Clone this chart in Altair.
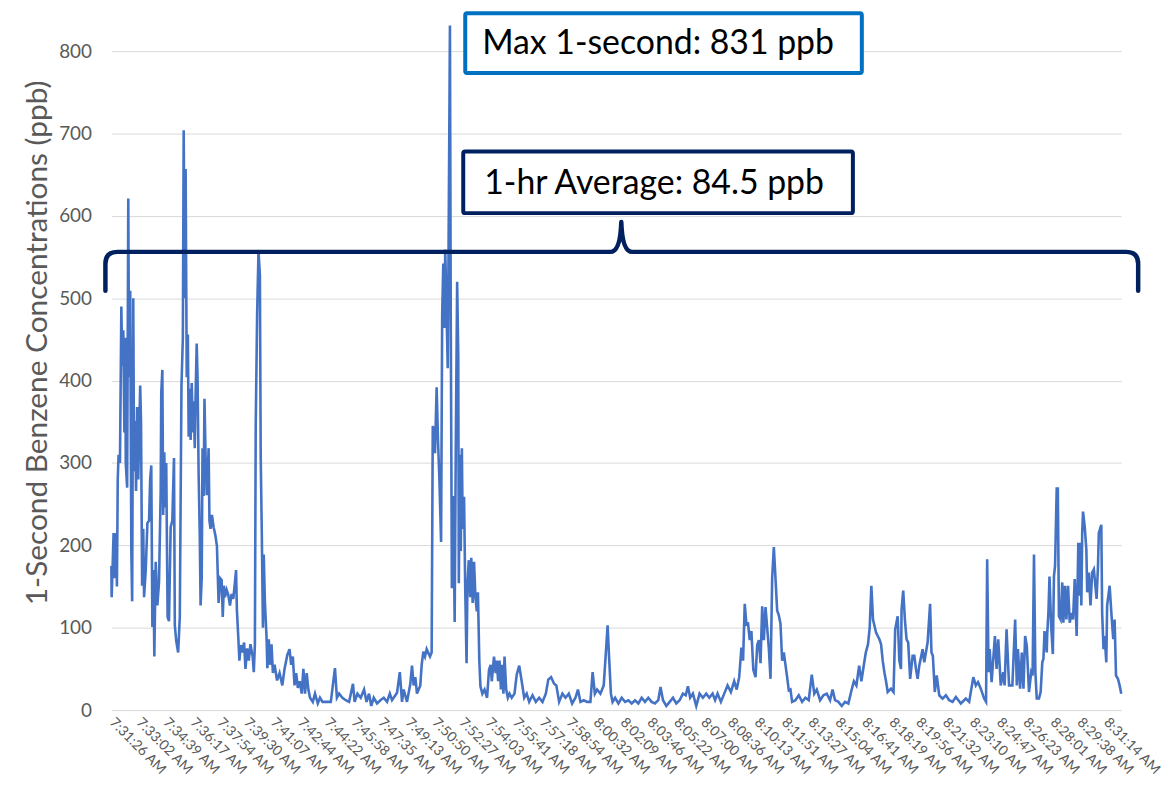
import altair as alt
import pandas as pd

# ---------------- data ----------------
# elapsed seconds after 7:31:26 AM and 1-second benzene concentration (ppb)
ELAPSED_S = [
    0, 1, 5, 8, 13, 17, 20, 23, 26, 31, 36, 39, 43, 47, 50, 52, 57, 61, 64, 68,
    72, 75, 79, 82, 86, 89, 93, 97, 100, 104, 107, 111, 115, 118, 124, 130, 136, 140, 144, 148,
    152, 155, 160, 166, 172, 178, 180, 184, 187, 191, 194, 198, 203, 208, 214, 220, 226, 229, 234, 241,
    247, 253, 258, 261, 265, 268, 272, 276, 279, 283, 286, 290, 294, 297, 301, 304, 308, 311, 315, 319,
    322, 326, 329, 333, 336, 340, 344, 347, 351, 354, 358, 363, 369, 375, 381, 387, 393, 398, 402, 406,
    410, 416, 422, 428, 434, 440, 446, 450, 453, 458, 462, 467, 472, 479, 484, 490, 496, 502, 510, 514,
    518, 521, 526, 531, 536, 539, 543, 547, 550, 554, 560, 563, 568, 573, 578, 583, 589, 598, 607, 617,
    625, 635, 643, 649, 655, 661, 667, 673, 680, 687, 693, 699, 705, 711, 717, 727, 735, 745, 753, 762,
    774, 792, 807, 814, 822, 834, 846, 858, 872, 878, 888, 900, 912, 921, 930, 938, 947, 959, 971, 983,
    995, 1005, 1013, 1025,
    1031, 1041, 1049, 1055, 1067, 1079, 1085, 1091, 1097, 1103, 1109, 1115, 1120, 1126, 1132, 1138, 1150, 1156, 1160, 1163,
    1168, 1174, 1179, 1184, 1190, 1194, 1198, 1202, 1205, 1210, 1214, 1217, 1222, 1225, 1229, 1234, 1239, 1243, 1248, 1252,
    1254, 1258, 1261, 1265, 1268, 1273, 1277, 1282, 1285, 1290, 1295, 1299, 1304, 1309, 1314, 1319, 1323, 1328, 1332, 1339,
    1347, 1356, 1363, 1369, 1373, 1381, 1387, 1391, 1396, 1401, 1406, 1410, 1415, 1419, 1425, 1431, 1437, 1445, 1455, 1463,
    1472, 1481, 1490, 1499, 1508, 1520, 1532, 1544, 1556, 1568, 1577, 1587, 1598, 1606, 1616, 1628, 1639, 1651, 1663, 1675,
    1684, 1693, 1705, 1717, 1729, 1737, 1745, 1753, 1765, 1777, 1785, 1791, 1797, 1803, 1809, 1818, 1830, 1842, 1854, 1866,
    1878, 1890, 1902, 1914, 1926, 1938, 1950, 1962, 1974, 1982, 1991, 2003, 2015, 2027, 2039, 2051, 2063, 2073, 2081, 2089,
    2099, 2111, 2123, 2135, 2147, 2158, 2170, 2179, 2188, 2200, 2212, 2224, 2236, 2248, 2257, 2266, 2274, 2280, 2286, 2292,
    2298, 2304, 2310, 2317, 2325, 2331, 2337, 2343, 2349, 2355, 2361, 2367, 2373, 2379, 2385, 2391, 2397, 2403, 2409, 2415,
    2421, 2427, 2433, 2439, 2445, 2451, 2457, 2469, 2481, 2493, 2505, 2517, 2528, 2537, 2546, 2558, 2570, 2582, 2594, 2603,
    2612, 2624, 2636, 2648, 2660, 2672, 2680, 2689, 2699, 2707, 2716, 2723, 2731, 2737, 2743, 2749,
    2760, 2766, 2772, 2778, 2784, 2790, 2796, 2802, 2814, 2823, 2829, 2838, 2844, 2850, 2852, 2858, 2864, 2870, 2876, 2883,
    2892, 2898, 2904, 2910, 2916, 2928, 2934, 2946, 2955, 2960, 2965, 2972, 2979, 2988, 3000, 3012, 3024, 3036, 3048, 3066,
    3084, 3096, 3111, 3120, 3128, 3138, 3150, 3157, 3161, 3166, 3170, 3177, 3189, 3195, 3201, 3210, 3219, 3224, 3231, 3240,
    3252, 3262, 3268, 3272, 3280, 3286, 3292, 3298, 3304, 3312, 3320, 3325, 3330, 3335, 3340, 3348, 3354, 3360, 3364, 3368,
    3376, 3378, 3382, 3386, 3392, 3398, 3402, 3406, 3412, 3416, 3420, 3426, 3432, 3436, 3442, 3447, 3453, 3459, 3465, 3471,
    3477, 3484, 3490, 3495, 3498, 3501, 3504, 3507, 3513, 3519, 3522, 3528, 3534, 3540, 3546, 3556, 3561, 3564, 3573, 3576,
    3581, 3585, 3591, 3594, 3603, 3610, 3616, 3621, 3626, 3633, 3639, 3645,
]

PPB = [
    175, 137, 180, 215, 160, 215, 150, 280, 310, 300, 490, 418, 461, 337, 452, 299, 270, 621, 404, 509,
    194, 132, 500, 290, 351, 266, 368, 280, 328, 394, 350, 151, 220, 137, 170, 227, 230, 280, 297, 101,
    170, 65, 180, 127, 156, 266, 385, 413, 237, 313, 246, 300, 113, 108, 222, 230, 306, 103, 84, 70,
    113, 394, 452, 704, 500, 657, 404, 456, 332, 390, 328, 397, 337, 375, 318, 382, 445, 404, 285, 213,
    127, 160, 318, 260, 378, 308, 261, 280, 318, 230, 220, 237, 222, 213, 199, 130, 160, 158, 113, 151,
    137, 146, 140, 127, 141, 135, 155, 170, 122, 89, 60, 79, 70, 82, 50, 75, 60, 80, 65, 46,
    80, 345, 480, 557, 528, 308, 213, 100, 189, 132, 89, 51, 86, 55, 80, 45, 55, 36, 45, 30,
    50, 67, 74, 55, 65, 30, 45, 27, 35, 20, 50, 20, 45, 25, 15, 10, 20, 8, 15, 10,
    10, 10, 51, 15, 20, 15, 12, 10, 32, 10, 20, 15, 25, 10, 20, 5, 15, 8, 12, 15,
    10, 20, 12, 18,
    21, 46, 10, 25, 10, 32, 54, 30, 40, 20, 25, 30, 55, 71, 65, 74, 65, 70, 345, 340,
    312, 392, 326, 280, 204, 481, 542, 464, 559, 480, 415, 559, 831, 470, 148, 260, 107, 315, 520, 430,
    154, 310, 193, 318, 220, 259, 150, 57, 150, 182, 137, 185, 130, 180, 137, 120, 143, 60, 29, 20,
    25, 15, 49, 55, 35, 65, 45, 60, 35, 60, 25, 55, 20, 65, 25, 15, 20, 15, 20, 43,
    54, 35, 15, 20, 10, 18, 10, 15, 10, 20, 37, 40, 32, 30, 10, 20, 15, 20, 8, 15,
    25, 10, 12, 10, 10, 46, 20, 25, 20, 30, 71, 103, 60, 20, 10, 15, 8, 15, 10, 12,
    8, 12, 8, 15, 10, 15, 10, 8, 12, 28, 12, 5, 10, 15, 8, 12, 20, 18, 29, 15,
    20, 5, 20, 15, 20, 15, 20, 12, 20, 10, 20, 30, 22, 35, 25, 40, 76, 60, 129, 104,
    105, 85, 96, 49, 40, 79, 85, 57, 126, 85, 125, 100, 75, 38, 160, 198, 160, 121, 115, 105,
    60, 70, 55, 40, 24, 25, 10, 12, 18, 10, 15, 12, 43, 20, 25, 12, 18, 20, 12, 25,
    12, 10, 5, 10, 8, 25, 35, 30, 54, 35, 55, 70, 80, 100, 151, 110,
    94, 90, 86, 80, 60, 46, 35, 22, 26, 22, 98, 114, 60, 50, 122, 145, 110, 86, 82, 38,
    66, 66, 50, 38, 54, 74, 58, 82, 129, 70, 66, 22, 42, 18, 14, 18, 12, 10, 16, 8,
    14, 10, 40, 30, 34, 26, 14, 10, 183, 46, 74, 34, 90, 50, 86, 30, 46, 30, 98, 30,
    30, 110, 30, 74, 26, 70, 26, 90, 78, 22, 46, 42, 189, 46, 14, 14, 22, 58, 62, 96,
    70, 94, 118, 162, 102, 68, 162, 175, 269, 269, 114, 110, 155, 106, 151, 110, 151, 106, 118, 110,
    159, 90, 203, 139, 203, 127, 215, 241, 223, 195, 143, 167, 127, 167, 171, 135, 175, 215, 225, 118,
    74, 90, 58, 127, 151, 114, 86, 110, 42, 38, 30, 20,
]

TICK_LABELS = [
    "7:31:26 AM", "7:33:02 AM", "7:34:39 AM", "7:36:17 AM", "7:37:54 AM", "7:39:30 AM",
    "7:41:07 AM", "7:42:44 AM", "7:44:22 AM", "7:45:58 AM", "7:47:35 AM", "7:49:13 AM",
    "7:50:50 AM", "7:52:27 AM", "7:54:03 AM", "7:55:41 AM", "7:57:18 AM", "7:58:54 AM",
    "8:00:32 AM", "8:02:09 AM", "8:03:46 AM", "8:05:22 AM", "8:07:00 AM", "8:08:36 AM",
    "8:10:13 AM", "8:11:51 AM", "8:13:27 AM", "8:15:04 AM", "8:16:41 AM", "8:18:19 AM",
    "8:19:56 AM", "8:21:32 AM", "8:23:10 AM", "8:24:47 AM", "8:26:23 AM", "8:28:01 AM",
    "8:29:38 AM", "8:31:14 AM",
]
Y_TICKS = [0, 100, 200, 300, 400, 500, 600, 700, 800]

START = "7:31:26 AM"
END_ELAPSED_S = 3645

MAX_TEXT = "Max 1-second: 831 ppb"
AVG_TEXT = "1-hr Average: 84.5 ppb"
Y_TITLE = "1-Second Benzene Concentrations (ppb)"

# ---------------- build table ----------------
base = pd.Timestamp("2020-01-01 " + pd.to_datetime(START, format="%I:%M:%S %p").strftime("%H:%M:%S"))
times = [(base + pd.Timedelta(seconds=s)).strftime("%Y-%m-%dT%H:%M:%SZ") for s in ELAPSED_S]
df = pd.DataFrame({"time": times, "ppb": PPB})


def dt(ts):
    return alt.DateTime(year=ts.year, month=ts.month, date=ts.day, hours=ts.hour,
                        minutes=ts.minute, seconds=ts.second, utc=True)


tick_values = []
for lab in TICK_LABELS:
    t = pd.to_datetime(lab, format="%I:%M:%S %p")
    tick_values.append(dt(pd.Timestamp(2020, 1, 1, t.hour, t.minute, t.second)))

end_ts = base + pd.Timedelta(seconds=END_ELAPSED_S)

FONT = "Lato"
GREY = "#595959"
W, H = 1016, 663

line = alt.Chart(df).mark_line(color="#4472C4", strokeWidth=2.6, clip=False).encode(
    x=alt.X("time:T",
            scale=alt.Scale(type="utc", domain=[dt(base), dt(end_ts)], nice=False),
            axis=alt.Axis(values=tick_values, title=None, grid=False, domain=False, ticks=False,
                          tickSize=0,
                          labelExpr="utcFormat(datum.value, '%-I:%M:%S %p')",
                          labelAngle=45, labelAlign="left", labelBaseline="middle",
                          labelPadding=10, labelFont=FONT, labelFontSize=14, labelColor=GREY,
                          labelOverlap=False, labelFlush=False, labelBound=False)),
    y=alt.Y("ppb:Q",
            scale=alt.Scale(domain=[0, 800], nice=False, zero=True),
            axis=alt.Axis(values=Y_TICKS, title=Y_TITLE, grid=True, gridColor="#D9D9D9",
                          gridWidth=1, domain=False, ticks=False, tickSize=0, labelPadding=20,
                          labelFont=FONT, labelFontSize=19, labelColor=GREY,
                          titleFont=FONT, titleFontSize=30, titleFontWeight="normal",
                          titleColor=GREY, titleAngle=-90, titleAlign="center",
                          titleBaseline="middle", titleX=-74, titleY=293)),
)

one = alt.Data(values=[{"k": 0}])

# brace (annotation shape, plot-relative pixel geometry, normalised to a symbol path)
BCX, BCY, BR = 513.5, 202.0, 520.0


def n(x, y):
    return f"{(x - BCX) / BR:.5f},{(y - BCY) / BR:.5f}"


brace_path = (
    f"M{n(-6, 241)}L{n(-6, 214)}Q{n(-6, 202)} {n(6, 202)}L{n(502, 202)}"
    f"Q{n(512, 202)} {n(513, 172)}Q{n(514, 202)} {n(524, 202)}L{n(1021, 202)}"
    f"Q{n(1033, 202)} {n(1033, 214)}L{n(1033, 241)}"
)

brace = alt.Chart(one).mark_point(
    shape=brace_path, size=(2 * BR) ** 2, filled=False, stroke="#002060",
    strokeWidth=4.5, opacity=1, strokeCap="round", strokeJoin="round",
).encode(x=alt.value(BCX), y=alt.value(BCY))

box_max = alt.Chart(one).mark_rect(fill="white", stroke="#0070C0", strokeWidth=4, cornerRadius=2).encode(
    x=alt.value(356), x2=alt.value(755), y=alt.value(-38), y2=alt.value(22))
box_avg = alt.Chart(one).mark_rect(fill="white", stroke="#002060", strokeWidth=4, cornerRadius=2).encode(
    x=alt.value(354), x2=alt.value(746), y=alt.value(101), y2=alt.value(163))

txt_max = alt.Chart(one).mark_text(font=FONT, fontSize=34, color="black", align="center",
                                   baseline="middle").encode(
    x=alt.value(550), y=alt.value(-7), text=alt.value(MAX_TEXT))
txt_avg = alt.Chart(one).mark_text(font=FONT, fontSize=34, color="black", align="center",
                                   baseline="middle").encode(
    x=alt.value(546), y=alt.value(134), text=alt.value(AVG_TEXT))

chart = alt.layer(line, brace, box_avg, box_max, txt_max, txt_avg).properties(
    width=W, height=H,
    background="white",
    autosize=alt.AutoSizeParams(type="none"),
    padding={"left": 104, "top": 41, "right": 44, "bottom": 75},
).configure_view(strokeWidth=0, stroke=None)

chart.save("out.html", embed_options={"renderer": "svg", "actions": False})
